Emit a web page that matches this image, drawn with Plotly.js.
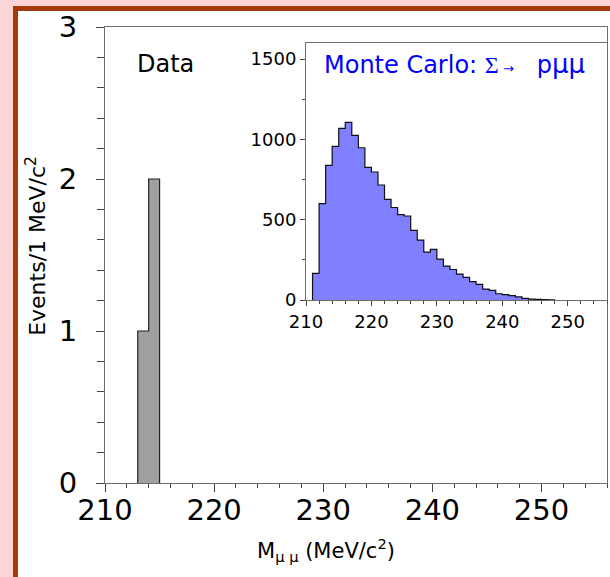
<!DOCTYPE html>
<html>
<head>
<meta charset="utf-8">
<script src="https://cdn.plot.ly/plotly-3.0.1.min.js"></script>
<style>
  html, body { margin: 0; padding: 0; background: #fcd6d6; }
  #chart { width: 610px; height: 577px; }
</style>
</head>
<body>
<div id="chart"></div>
<script>
// ---- Data ----
// Main panel: observed events, 1 MeV/c^2 bins (low edges)
const dataBinLowEdges = [213, 214];
const dataCounts = [1, 2];

// Inset: Monte Carlo Sigma+ -> p mu mu, 1 MeV/c^2 bins (low edges)
const mcBinLowEdges = [211, 212, 213, 214, 215, 216, 217, 218, 219, 220,
                       221, 222, 223, 224, 225, 226, 227, 228, 229, 230,
                       231, 232, 233, 234, 235, 236, 237, 238, 239, 240,
                       241, 242, 243, 244, 245, 246, 247];
const mcCounts = [166, 600, 838, 957, 1068, 1106, 1025, 948, 826, 797,
                  716, 627, 576, 532, 523, 433, 373, 298, 315, 255,
                  211, 190, 161, 141, 114, 97, 68, 60, 39, 33,
                  27, 19, 10, 6, 4, 3, 1];

const binWidth = 1;

// Axis tick labels
const mainXTicks = [210, 220, 230, 240, 250];
const mainYTicks = [0, 1, 2, 3];
const insetYTicks = [0, 500, 1000, 1500];

// ---- helpers ----
function centers(lows) { return lows.map(v => v + binWidth / 2); }
function stepOutline(lows, counts) {
  const xs = [lows[0]], ys = [0];
  for (let i = 0; i < lows.length; i++) { xs.push(lows[i]); ys.push(counts[i]); }
  const lastEdge = lows[lows.length - 1] + binWidth;
  xs.push(lastEdge); ys.push(counts[counts.length - 1]);
  xs.push(lastEdge); ys.push(0);
  return { xs, ys };
}

const FONT = 'DejaVu Sans, Liberation Sans, Arial, sans-serif';
const AXC = '#6e6e6e';
const TKC = '#444444';
const NB = '\u00A0';

const dataOutline = stepOutline(dataBinLowEdges, dataCounts);
const mcOutline = stepOutline(mcBinLowEdges, mcCounts);

const traces = [
  { type: 'bar', x: centers(dataBinLowEdges), y: dataCounts, width: binWidth,
    marker: { color: '#a0a0a0', line: { width: 0 } }, xaxis: 'x', yaxis: 'y', hoverinfo: 'x+y' },
  { type: 'scatter', mode: 'lines', x: dataOutline.xs, y: dataOutline.ys,
    line: { color: '#222222', width: 1.2, shape: 'hv' }, xaxis: 'x', yaxis: 'y', hoverinfo: 'skip' },
  { type: 'bar', x: centers(mcBinLowEdges), y: mcCounts, width: binWidth,
    marker: { color: '#7f7fff', line: { width: 0 } }, xaxis: 'x2', yaxis: 'y2', hoverinfo: 'x+y' },
  { type: 'scatter', mode: 'lines', x: mcOutline.xs, y: mcOutline.ys,
    line: { color: '#111111', width: 1.2, shape: 'hv' }, xaxis: 'x2', yaxis: 'y2', hoverinfo: 'skip' }
];

const mcLabel = 'Monte Carlo: <span style="font-family:Liberation Serif">Σ</span>' +
                '<span style="font-size:13px">' + NB + '→</span>' + NB + NB + NB +
                'p<span style="font-size:26px">μμ</span>';

const layout = {
  width: 610, height: 577,
  margin: { l: 105, r: 3, t: 27, b: 94, pad: 0 },
  paper_bgcolor: '#fcd6d6',
  plot_bgcolor: 'rgba(0,0,0,0)',
  showlegend: false,
  bargap: 0,
  font: { family: FONT, color: '#000' },
  xaxis: {
    domain: [0, 1], anchor: 'y', range: [210, 256],
    tickmode: 'array', tickvals: mainXTicks, ticktext: mainXTicks.map(String),
    ticks: 'outside', ticklen: 8, tickwidth: 1, tickcolor: TKC,
    showline: true, linecolor: AXC, linewidth: 1, mirror: true,
    showgrid: false, zeroline: false,
    tickfont: { family: FONT, size: 29, color: '#000' },
    ticklabelstandoff: -7,
    minor: { tickmode: 'linear', tick0: 210, dtick: 2, ticks: 'outside', ticklen: 4, tickcolor: TKC, showgrid: false }
  },
  yaxis: {
    domain: [0, 1], anchor: 'x', range: [0, 3],
    tickmode: 'array', tickvals: mainYTicks, ticktext: mainYTicks.map(String),
    ticks: 'outside', ticklen: 8, tickwidth: 1, tickcolor: TKC,
    showline: true, linecolor: AXC, linewidth: 1, mirror: true,
    showgrid: false, zeroline: false,
    tickfont: { family: FONT, size: 29, color: '#000' },
    ticklabelstandoff: 13,
    minor: { tickmode: 'linear', tick0: 0, dtick: 0.2, ticks: 'outside', ticklen: 7, tickcolor: TKC, showgrid: false }
  },
  xaxis2: {
    domain: [0.4004, 1], anchor: 'y2', range: [210, 256],
    tickmode: 'array', tickvals: mainXTicks, ticktext: mainXTicks.map(String),
    ticks: 'outside', ticklen: 5, tickwidth: 1, tickcolor: TKC,
    showline: true, linecolor: AXC, linewidth: 1, mirror: true,
    showgrid: false, zeroline: false,
    tickfont: { family: FONT, size: 18, color: '#000' },
    minor: { tickmode: 'linear', tick0: 210, dtick: 2, ticks: 'outside', ticklen: 3, tickcolor: TKC, showgrid: false }
  },
  yaxis2: {
    domain: [0.4013, 0.9649], anchor: 'x2', range: [0, 1600],
    tickmode: 'array', tickvals: insetYTicks, ticktext: insetYTicks.map(String),
    ticks: 'outside', ticklen: 5, tickwidth: 1, tickcolor: TKC,
    showline: true, linecolor: AXC, linewidth: 1, mirror: true,
    showgrid: false, zeroline: false,
    tickfont: { family: FONT, size: 18, color: '#000' },
    minor: { tickmode: 'linear', tick0: 0, dtick: 250, ticks: 'outside', ticklen: 3, tickcolor: TKC, showgrid: false }
  },
  shapes: [
    { type: 'rect', xref: 'paper', yref: 'paper', layer: 'below',
      x0: -0.1783, x1: 1.03, y0: -0.26, y1: 1.0406,
      line: { color: '#a33a0a', width: 5 }, fillcolor: '#ffffff' }
  ],
  annotations: [
    { xref: 'paper', yref: 'paper', x: 0.1215, y: 0.919, xanchor: 'center', yanchor: 'middle',
      text: 'Data', showarrow: false, font: { family: FONT, size: 24, color: '#000' } },
    { xref: 'paper', yref: 'paper', x: 0.432, y: 0.919, xanchor: 'left', yanchor: 'middle',
      text: mcLabel, showarrow: false, font: { family: FONT, size: 24, color: '#0000ff' } },
    { xref: 'paper', yref: 'paper', x: 0.440, y: -0.147, xanchor: 'center', yanchor: 'middle',
      text: 'M<sub>μ μ</sub> (MeV/c<sup>2</sup>)', showarrow: false,
      font: { family: FONT, size: 21, color: '#000' } },
    { xref: 'paper', yref: 'paper', x: -0.1375, y: 0.52, xanchor: 'center', yanchor: 'middle',
      textangle: -90, text: 'Events/1 MeV/c<sup>2</sup>', showarrow: false,
      font: { family: FONT, size: 22, color: '#000' } }
  ]
};

Plotly.newPlot('chart', traces, layout, { displayModeBar: false, staticPlot: true });
</script>
</body>
</html>
